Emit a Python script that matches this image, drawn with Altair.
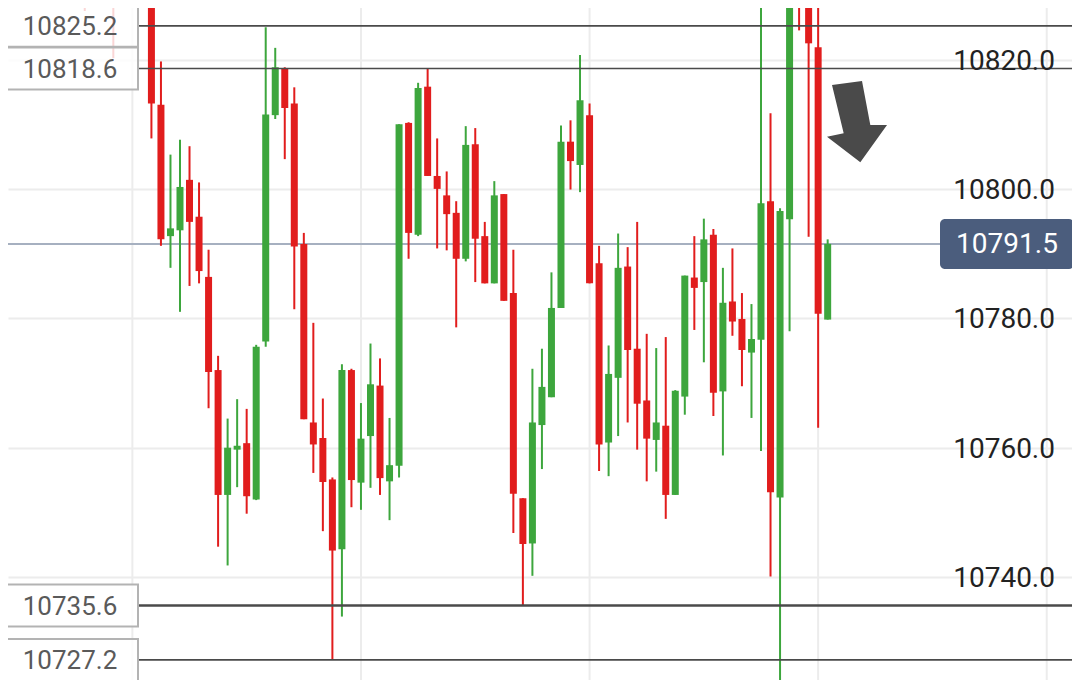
import altair as alt
import pandas as pd

# ---- candle data (index = candle slot) ----
opens = [10829.5, 10831, 10830.5, 10829, 10832, 10833, 10831.5, 10833.5, 10835, 10832,
         10813.0, 10792.7, 10793.6, 10801.4, 10795.7, 10786.4, 10772.0, 10752.7, 10759.7, 10760.7,
         10752.0, 10776.4, 10811.4, 10818.6, 10813.2, 10791.5, 10763.9, 10761.5, 10755.1, 10744.3,
         10772.0, 10754.6, 10761.8, 10769.6, 10754.8, 10757.2, 10810.2, 10792.9, 10815.8, 10802.0,
         10799.0, 10796.3, 10789.2, 10806.9, 10792.7, 10785.4, 10799.2, 10783.9, 10752.2, 10745.2,
         10763.5, 10767.8, 10781.6, 10807.3, 10803.7, 10811.4, 10788.5, 10760.8, 10770.8, 10788.0,
         10775.3, 10767.3, 10761.2, 10763.4, 10752.7, 10767.9, 10786.3, 10785.6, 10792.9, 10768.7,
         10782.6, 10779.9, 10774.7, 10776.7, 10798.1, 10752.3, 10795.3, 10834, 10830, 10821.9,
         10779.8]
highs = [10832, 10832, 10831.5, 10832, 10833.5, 10834, 10835, 10836, 10836, 10834,
         10819.7, 10805.3, 10807.6, 10806.6, 10801.0, 10790.6, 10774.2, 10764.5, 10767.5, 10766.0,
         10775.9, 10825.0, 10821.8, 10818.8, 10815.7, 10793.2, 10779.3, 10767.6, 10755.4, 10772.9,
         10772.2, 10766.9, 10776.1, 10773.8, 10764.6, 10810.0, 10810.3, 10816.4, 10818.6, 10807.8,
         10802.7, 10798.1, 10809.7, 10809.4, 10794.9, 10801.2, 10799.2, 10790.6, 10752.2, 10772.2,
         10775.3, 10787.1, 10809.8, 10810.6, 10820.7, 10813.2, 10791.2, 10775.8, 10793.1, 10791.0,
         10794.9, 10777.6, 10775.4, 10777.1, 10768.9, 10786.6, 10792.7, 10795.4, 10793.8, 10787.8,
         10790.8, 10783.9, 10782.2, 10832, 10811.7, 10797.0, 10834, 10836, 10832, 10830,
         10792.2]
lows = [10828.0, 10828.5, 10827.5, 10828.3, 10830, 10820.2, 10830.5, 10832.5, 10831, 10807.8,
        10791.2, 10787.8, 10781.0, 10785.0, 10785.4, 10766.1, 10744.7, 10741.8, 10753.9, 10749.8,
        10751.9, 10775.6, 10810.8, 10804.6, 10781.4, 10764.4, 10756.1, 10747.1, 10727.2, 10733.9,
        10750.8, 10750.4, 10753.8, 10752.7, 10748.8, 10755.4, 10789.2, 10792.7, 10802.0, 10790.8,
        10790.5, 10778.6, 10788.8, 10785.6, 10785.4, 10785.4, 10782.7, 10746.8, 10735.6, 10740.2,
        10756.7, 10767.8, 10781.6, 10799.9, 10799.5, 10785.4, 10756.4, 10755.6, 10761.8, 10763.9,
        10759.7, 10754.8, 10756.3, 10749.0, 10752.7, 10765.1, 10778.2, 10773.2, 10764.9, 10758.8,
        10777.3, 10769.5, 10764.6, 10759.5, 10740.1, 10723.5, 10778.0, 10824.5, 10792.6, 10763.1,
        10779.8]
closes = [10831, 10830, 10829, 10831, 10831, 10831.5, 10833.5, 10835, 10832, 10813.2,
          10792.2, 10793.9, 10800.3, 10794.9, 10787.3, 10771.7, 10752.7, 10760.0, 10760.3, 10752.5,
          10775.6, 10811.5, 10818.8, 10812.5, 10791.1, 10764.4, 10760.5, 10754.7, 10744.1, 10772.0,
          10755.0, 10761.4, 10769.8, 10755.3, 10757.3, 10810.0, 10793.2, 10815.6, 10802.0, 10800.0,
          10796.1, 10789.2, 10806.8, 10792.3, 10785.4, 10799.0, 10782.7, 10752.9, 10745.1, 10763.9,
          10769.4, 10781.6, 10807.3, 10804.3, 10813.7, 10785.4, 10760.5, 10771.4, 10787.8, 10775.1,
          10766.8, 10761.4, 10763.9, 10752.7, 10768.8, 10786.6, 10784.7, 10792.2, 10768.5, 10782.4,
          10779.5, 10775.1, 10776.8, 10797.8, 10753.1, 10796.6, 10832, 10829.5, 10822.5, 10780.7,
          10791.5]

levels = [10825.2, 10818.6, 10735.6, 10727.2]
last_price = 10791.5
y_ticks = [10740, 10760, 10780, 10800, 10820]
grid_slots = [7, 31, 55, 79, 103]

# ---- layout (chart pixel = screen pixel - 8) ----
W, H = 1064, 672
Y_HI = 10827.96
PX = 6.47                       # pixels per price unit
Y_LO = Y_HI - H / PX
X_LO = -5.533
X_HI = (W + 8 - 61.2) / 9.615
FONT = "Roboto"

df = pd.DataFrame({"i": list(range(len(opens))), "open": opens, "high": highs,
                   "low": lows, "close": closes})
df["dir"] = ["up" if c >= o else "down" for o, c in zip(opens, closes)]

xs = alt.Scale(domain=[X_LO, X_HI], nice=False, zero=False)
ys = alt.Scale(domain=[Y_LO, Y_HI], nice=False, zero=False)
yaxis = alt.Axis(orient="right", values=y_ticks, title=None, domain=False,
                 ticks=False, labels=False, grid=True, gridColor="#ececec",
                 gridWidth=2)
color = alt.Color("dir:N", scale=alt.Scale(domain=["up", "down"],
                  range=["#3da63d", "#e11d1d"]), legend=None)

vgrid = alt.Chart(pd.DataFrame({"g": grid_slots})).mark_rule(
    color="#ececec", strokeWidth=2).encode(x=alt.X("g:Q", scale=xs, axis=None))

tick_labels = alt.Chart(pd.DataFrame({"t": y_ticks})).mark_text(
    font=FONT, fontSize=28, color="#222222", align="right", baseline="middle", dy=2
).encode(y=alt.Y("t:Q", scale=ys, axis=yaxis), x=alt.value(1047),
         text=alt.Text("t:Q", format=".1f"))

price_df = pd.DataFrame({"p": [last_price]})
price_df["top"] = price_df["p"] + 25 / PX
price_df["bot"] = price_df["p"] - 25 / PX

price_line = alt.Chart(price_df).mark_rule(color="#a6b0c0", strokeWidth=2).encode(
    y=alt.Y("p:Q", scale=ys, axis=yaxis), x=alt.value(0), x2=alt.value(932))

wicks = alt.Chart(df).mark_rule(strokeWidth=2, clip=True).encode(
    x=alt.X("i:Q", scale=xs, axis=None),
    y=alt.Y("low:Q", scale=ys, axis=yaxis), y2="high:Q", color=color)

bodies = alt.Chart(df).mark_bar(size=7, clip=True).encode(
    x=alt.X("i:Q", scale=xs, axis=None),
    y=alt.Y("open:Q", scale=ys, axis=yaxis), y2="close:Q", color=color)

lev_df = pd.DataFrame({"level": levels})
lev_df["top"] = lev_df["level"] + 21 / PX
lev_df["bot"] = lev_df["level"] - 21 / PX

lev_lines = alt.Chart(lev_df).mark_rule(color="#4a4a4a").encode(
    y=alt.Y("level:Q", scale=ys, axis=yaxis), x=alt.value(130), x2=alt.value(W),
    strokeWidth=alt.condition(alt.datum.level == 10735.6, alt.value(2.6), alt.value(1.6)))

lev_boxes = alt.Chart(lev_df).mark_rect(fill="white", fillOpacity=0.82,
                                        stroke="#b3b3b3", strokeWidth=2).encode(
    y=alt.Y("top:Q", scale=ys, axis=yaxis), y2="bot:Q",
    x=alt.value(-6), x2=alt.value(130))

lev_text = alt.Chart(lev_df).mark_text(font=FONT, fontSize=26, color="#5a5a5a",
                                       baseline="middle", dy=1).encode(
    y=alt.Y("level:Q", scale=ys, axis=yaxis), x=alt.value(62),
    text=alt.Text("level:Q", format=".1f"))

price_box = alt.Chart(price_df).mark_rect(fill="#4b5d7d", cornerRadius=5).encode(
    y=alt.Y("top:Q", scale=ys, axis=yaxis), y2="bot:Q",
    x=alt.value(932), x2=alt.value(1066))

price_text = alt.Chart(price_df).mark_text(font=FONT, fontSize=28, color="white",
                                           baseline="middle", dy=1).encode(
    y=alt.Y("p:Q", scale=ys, axis=yaxis), x=alt.value(999),
    text=alt.Text("p:Q", format=".1f"))

arrow_path = ("M -0.625 -0.925 L 0.125 -1.025 L 0.333 0.075 L 0.75 0.075 "
              "L 0.083 1.008 L -0.75 0.367 L -0.333 0.283 Z")
arrow_df = pd.DataFrame({"ax": [83.08], "ay": [10810.34]})
arrow = alt.Chart(arrow_df).mark_point(shape=arrow_path, size=6400, filled=True,
                                       color="#4a4a4a", opacity=1, strokeWidth=0).encode(
    x=alt.X("ax:Q", scale=xs, axis=None), y=alt.Y("ay:Q", scale=ys, axis=yaxis))

chart = alt.layer(vgrid, price_line, wicks, bodies, lev_lines, lev_boxes, lev_text,
                  price_box, price_text, arrow, tick_labels).properties(
    width=W, height=H, autosize="none", padding=0, background="white"
).configure_view(stroke=None)

chart.save("out.html", embed_options={"renderer": "svg", "actions": False})
